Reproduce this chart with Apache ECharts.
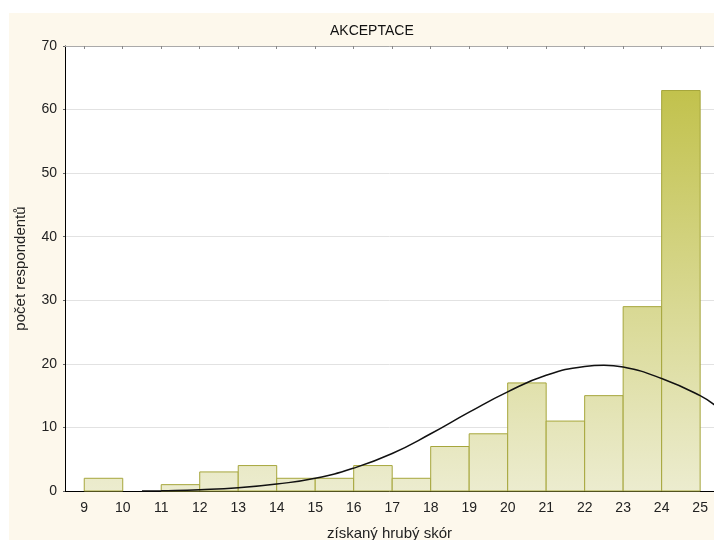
<!DOCTYPE html>
<html>
<head>
<meta charset="utf-8">
<script src="https://cdn.jsdelivr.net/npm/echarts@6/dist/echarts.min.js"></script>
<style>
  html, body { margin: 0; padding: 0; background: #fff; }
  #main { width: 714px; height: 540px; }
</style>
</head>
<body>
<div id="main"></div>
<script>
// histogram bins (left edge) and counts
var binStart = [9, 10, 11, 12, 13, 14, 15, 16, 17, 18, 19, 20, 21, 22, 23, 24];
var counts   = [2, 0, 1, 3, 4, 2, 2, 4, 2, 7, 9, 17, 11, 15, 29, 63];
var xTicks   = [9, 10, 11, 12, 13, 14, 15, 16, 17, 18, 19, 20, 21, 22, 23, 24, 25];

// fitted curve
var curveX = [10.5, 11, 12, 13, 14, 15, 16, 17, 18, 19, 20, 21, 22, 22.5, 23, 24, 25, 25.4];
var curveY = [0, 0.05, 0.2, 0.5, 1.1, 2.0, 3.6, 5.9, 9.0, 12.4, 15.6, 18.2, 19.6, 19.8, 19.5, 17.7, 15.0, 13.4];

var barData = binStart.map(function (b, i) { return [b, b + 1, counts[i]]; });
var curveData = curveX.map(function (x, i) { return [x, curveY[i]]; });

var barFill = {
  type: 'linear', x: 0, y: 46, x2: 0, y2: 491, global: true,
  colorStops: [
    { offset: 0, color: '#bdbd3e' },
    { offset: 1, color: '#ececcf' }
  ]
};

var chart = echarts.init(document.getElementById('main'));
chart.setOption({
  textStyle: { fontFamily: 'Liberation Sans, Arial, sans-serif' },
  graphic: [{
    type: 'rect', z: -10, silent: true,
    shape: { x: 9, y: 13, width: 720, height: 540 },
    style: { fill: '#fdf8ec' }
  }],
  title: {
    text: 'AKCEPTACE',
    left: 325, top: 19,
    textStyle: { fontSize: 14, fontWeight: 'normal', color: '#111' }
  },
  grid: {
    left: 65, right: 0, top: 46, bottom: 49,
    outerBoundsMode: 'none', containLabel: false,
    show: true, backgroundColor: '#ffffff', borderWidth: 0
  },
  xAxis: [{
    type: 'value', min: 8.5, max: 25.36,
    name: 'získaný hrubý skór', nameLocation: 'middle', nameGap: 35,
    nameTextStyle: { fontSize: 15, color: '#222' },
    axisLine: { show: true, onZero: false, lineStyle: { color: '#000', width: 1 } },
    axisTick: { show: false },
    axisLabel: { customValues: xTicks, fontSize: 14, color: '#222', margin: 10 },
    splitLine: { show: false }
  }, {
    type: 'value', position: 'top', min: 8.5, max: 25.36,
    axisLine: { show: true, onZero: false, lineStyle: { color: '#aaa', width: 1 } },
    axisTick: { show: true, inside: true, length: 3, customValues: xTicks, lineStyle: { color: '#888' } },
    axisLabel: { show: false },
    splitLine: { show: false }
  }],
  yAxis: {
    type: 'value', min: 0, max: 70, interval: 10,
    name: 'počet respondentů', nameLocation: 'middle', nameGap: 37,
    nameTextStyle: { fontSize: 15, color: '#222' },
    axisLine: { show: true, lineStyle: { color: '#000', width: 1 } },
    axisTick: { show: true, length: 2, lineStyle: { color: '#666' } },
    axisLabel: { fontSize: 14, color: '#222', margin: 8 },
    splitLine: { show: true, lineStyle: { color: '#e2e2e2', width: 1 } }
  },
  series: [{
    type: 'custom',
    data: barData,
    encode: { x: [0, 1], y: 2 },
    renderItem: function (params, api) {
      var v = api.value(2);
      if (!v) return null;
      var p0 = api.coord([api.value(0), v]);
      var p1 = api.coord([api.value(1), 0]);
      return {
        type: 'rect',
        shape: { x: p0[0], y: p0[1], width: p1[0] - p0[0], height: p1[1] - p0[1] },
        style: { fill: barFill, stroke: '#a6a63c', lineWidth: 1 }
      };
    },
    z: 2
  }, {
    type: 'line',
    data: curveData,
    smooth: true,
    symbol: 'none',
    lineStyle: { color: '#111', width: 1.5 },
    z: 3
  }]
});
</script>
</body>
</html>
